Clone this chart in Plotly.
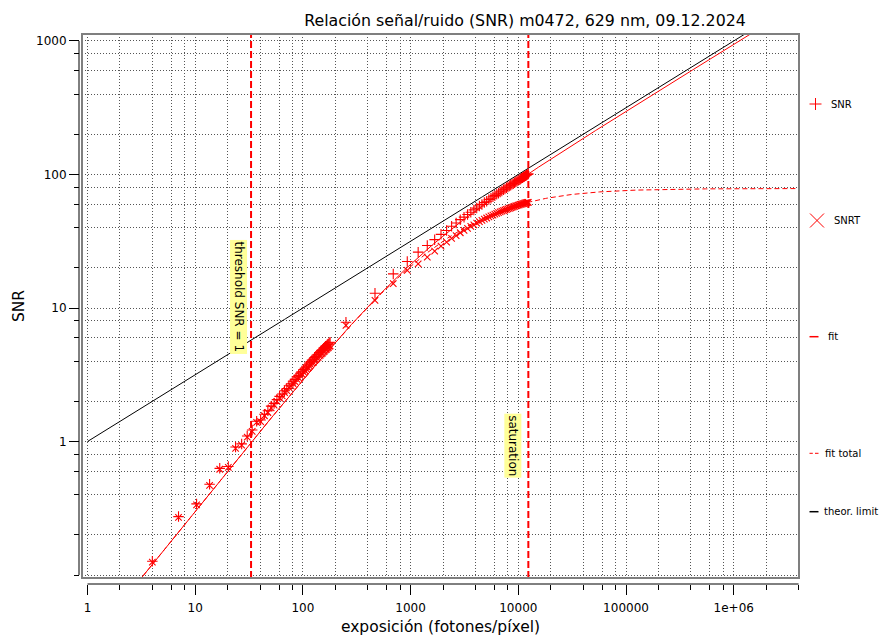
import numpy as np
import plotly.graph_objects as go

# ---------------- data ----------------
exp_low = [4.0, 7.0, 10.3, 13.6, 16.9, 20.3, 23.7, 27.0, 30.4, 33.8, 37.2, 40.5, 43.9, 47.3,
           50.7, 54.0, 57.4, 60.8, 64.2, 67.5, 70.9, 74.3, 77.7, 81.0, 84.4, 87.8, 91.2, 94.5,
           97.9, 101.3, 104.7, 108.0, 111.4, 114.8, 118.2, 121.5, 124.9, 128.3, 131.7, 135.0,
           138.4, 141.8, 145.2, 148.5, 151.9, 155.3, 158.7, 162.0, 165.4, 168.8, 172.2, 175.5, 178.9]
snr_low = [0.127, 0.274, 0.341, 0.479, 0.63, 0.65, 0.91, 0.96, 1.10, 1.22, 1.42, 1.45, 1.60, 1.70,
           1.84, 1.93, 2.06, 2.18, 2.27, 2.40, 2.49, 2.62, 2.71, 2.83, 2.92, 3.05, 3.13, 3.25,
           3.33, 3.46, 3.55, 3.66, 3.74, 3.87, 3.95, 4.07, 4.13, 4.26, 4.33, 4.45,
           4.51, 4.63, 4.70, 4.81, 4.87, 4.99, 5.05, 5.16, 5.22, 5.33, 5.38, 5.49, 5.54]
snrt_low = [0.125, 0.270, 0.335, 0.470, 0.62, 0.64, 0.89, 0.94, 1.08, 1.19, 1.39, 1.41, 1.56, 1.65,
            1.79, 1.87, 2.00, 2.11, 2.20, 2.32, 2.41, 2.53, 2.61, 2.72, 2.81, 2.93, 3.00, 3.11,
            3.19, 3.31, 3.39, 3.49, 3.57, 3.68, 3.76, 3.87, 3.92, 4.04, 4.11, 4.21,
            4.27, 4.38, 4.44, 4.54, 4.60, 4.70, 4.76, 4.86, 4.91, 5.01, 5.06, 5.16, 5.20]

exp_high = [251, 467, 690, 931, 1175, 1428, 1672, 1915, 2159, 2402, 2646, 2890, 3133, 3377,
            3620, 3864, 4108, 4351, 4595, 4838, 5082, 5326, 5569, 5813, 6056, 6300, 6544,
            6787, 7031, 7274, 7518, 7762, 8005, 8249, 8492, 8736, 8980, 9223, 9467, 9710,
            9954, 10198, 10441, 10685, 10928, 11172, 11416, 11659, 11903, 12146, 12390]
snr_high = [7.83, 12.9, 18.0, 22.3, 26.2, 29.4, 32.5, 35.6, 38.1, 41.0, 43.3, 45.9, 47.9, 50.2,
            52.1, 54.3, 56.0, 58.0, 59.7, 61.6, 63.1, 64.9, 66.3, 68.1, 69.4, 71.1, 72.4,
            74.0, 75.2, 76.8, 77.9, 79.4, 80.5, 82.0, 83.0, 84.4, 85.4, 86.8, 87.8, 89.1,
            90.0, 91.3, 92.2, 93.5, 94.4, 95.7, 96.6, 97.9, 98.8, 100.0, 101.0]
snrt_high = [7.40, 11.4, 15.2, 19.1, 21.4, 24.0, 26.7, 29.1, 31.2, 33.2, 34.9, 36.6, 38.1, 39.5,
             40.8, 42.0, 43.2, 44.3, 45.3, 46.3, 47.2, 48.1, 48.9, 49.7, 50.5, 51.2, 51.8,
             52.5, 53.1, 53.7, 54.2, 54.8, 55.3, 55.8, 56.3, 56.8, 57.2, 57.7, 58.1, 58.5,
             58.9, 59.3, 59.7, 60.0, 60.3, 60.6, 60.9, 61.2, 61.4, 61.7, 61.9]

exposure = exp_low + exp_high
snr = snr_low + snr_high
snrt = snrt_low + snrt_high

# fit parameters
QE = 0.888           # quantum efficiency
READ_NOISE = 29.3    # e-
PRNU = 0.01274       # photo response non-uniformity
THRESHOLD_X = 33.0   # exposure where SNR = 1
SATURATION_X = 12390.0

x_ticks = [1, 10, 100, 1000, 10000, 100000, 1000000]
x_ticktext = ["1", "10", "100", "1000", "10000", "100000", "1e+06"]
y_ticks = [1, 10, 100, 1000]
y_ticktext = ["1", "10", "100", "1000"]

# ---------------- model curves ----------------
xm = np.logspace(0, 6.61, 500)
sig = QE * xm
fit = sig / np.sqrt(sig + READ_NOISE ** 2)
fit_total = sig / np.sqrt(sig + READ_NOISE ** 2 + (PRNU * sig) ** 2)
theor = np.sqrt(xm)

W, H = 879, 636
ML, MR, MT, MB = 79, 80, 34, 52
PW, PH = W - ML - MR, H - MT - MB


def px(xp):
    return (xp - ML) / PW


def py(yp):
    return (H - MB - yp) / PH


RED = "#ff0000"
GRID = dict(gridcolor="#555555", griddash="1px,2px", gridwidth=1)
FONT = "DejaVu Sans"

fig = go.Figure()
fig.add_trace(go.Scatter(x=xm, y=theor, mode="lines", line=dict(color="black", width=1),
                         name="theor. limit", showlegend=False))
fig.add_trace(go.Scatter(x=xm, y=fit_total, mode="lines",
                         line=dict(color=RED, width=1, dash="5px,3px"),
                         name="fit total", showlegend=False))
fig.add_trace(go.Scatter(x=xm, y=fit, mode="lines", line=dict(color=RED, width=1),
                         name="fit", showlegend=False))
fig.add_trace(go.Scatter(x=exposure, y=snrt, mode="markers", name="SNRT", showlegend=False,
                         marker=dict(symbol="x-thin-open", size=6.5, color=RED,
                                     line=dict(color=RED, width=1.1))))
fig.add_trace(go.Scatter(x=exposure, y=snr, mode="markers", name="SNR", showlegend=False,
                         marker=dict(symbol="cross-thin-open", size=7.5, color=RED,
                                     line=dict(color=RED, width=1.1))))

shapes = []
# vertical marker lines
for xv in (THRESHOLD_X, SATURATION_X):
    shapes.append(dict(type="line", xref="x", yref="paper", x0=xv, x1=xv, y0=py(578), y1=1,
                       line=dict(color=RED, width=2, dash="7px,3px")))
# frame
shapes.append(dict(type="rect", xref="paper", yref="paper", x0=px(82), x1=1, y0=py(578), y1=1,
                   line=dict(color="#7f7f7f", width=2)))
# offset axis lines
shapes.append(dict(type="line", xref="paper", yref="y", x0=0, x1=0, y0=0.1, y1=1000,
                   line=dict(color="black", width=1)))
shapes.append(dict(type="line", xref="x", yref="paper", x0=1, x1=4e6, y0=0, y1=0,
                   line=dict(color="black", width=1)))

# custom legend symbols
def seg(x0, y0, x1, y1, color, width=1):
    shapes.append(dict(type="line", xref="paper", yref="paper", x0=px(x0), x1=px(x1),
                       y0=py(y0), y1=py(y1), line=dict(color=color, width=width)))

seg(809.5, 104, 821.5, 104, RED)
seg(815.5, 98, 815.5, 110, RED)
seg(810, 213.5, 824, 227.5, RED)
seg(810, 227.5, 824, 213.5, RED)
seg(809.5, 336.7, 818.5, 336.7, RED, 1.5)
seg(809.5, 453.3, 812.8, 453.3, RED)
seg(815, 453.3, 818.5, 453.3, RED)
seg(809.5, 511.7, 818.5, 511.7, "black", 1.5)

annotations = []
for label, xl, yl in [("SNR", 829, 104), ("SNRT", 831.5, 220.5), ("fit", 825.5, 336.7),
                      ("fit total", 822.5, 453.3), ("theor. limit", 821.5, 511.7)]:
    annotations.append(dict(text=label, xref="paper", yref="paper", x=px(xl), y=py(yl),
                            xanchor="left", yanchor="middle", showarrow=False,
                            font=dict(family=FONT, size=10, color="black")))

# rotated labels at the marker lines
annotations.append(dict(text="threshold SNR = 1", textangle=90, xref="x", yref="paper",
                        x=np.log10(THRESHOLD_X), y=py(296.5), xanchor="right", yanchor="middle",
                        xshift=-3, showarrow=False, bgcolor="#ffff99", borderpad=1,
                        font=dict(family=FONT, size=12, color="black")))
annotations.append(dict(text="saturation", textangle=90, xref="x", yref="paper",
                        x=np.log10(SATURATION_X), y=py(445.5), xanchor="right", yanchor="middle",
                        xshift=-6, showarrow=False, bgcolor="#ffff99", borderpad=1,
                        font=dict(family=FONT, size=12, color="black")))

minor_x = [m * 10 ** d for d in range(0, 7) for m in (2, 4, 6, 8) if m * 10 ** d <= 4e6]
minor_y = [0.1] + [m * 10 ** d for d in range(-1, 3) for m in (2, 4, 6, 8)]

fig.update_layout(
    width=W, height=H,
    margin=dict(l=ML, r=MR, t=MT, b=MB, autoexpand=False),
    paper_bgcolor="white", plot_bgcolor="white",
    font=dict(family=FONT, color="black", size=12),
    title=dict(text="Relación señal/ruido (SNR) m0472, 629 nm, 09.12.2024",
               xref="container", yref="container", x=525 / W, y=1 - 20 / H,
               xanchor="center", yanchor="middle",
               font=dict(family=FONT, size=15.8, color="black")),
    xaxis=dict(type="log", range=[-0.051, 6.606], domain=[px(82), 1], anchor="free", position=0,
               automargin=False,
               tickmode="array", tickvals=x_ticks, ticktext=x_ticktext,
               ticks="outside", ticklen=10, tickcolor="black", tickwidth=1,
               ticklabelstandoff=3,
               showline=False, zeroline=False, showgrid=True, **GRID,
               tickfont=dict(family=FONT, size=12, color="black"),
               title=dict(text="exposición (fotones/píxel)", standoff=12,
                          font=dict(family=FONT, size=15.5, color="black")),
               minor=dict(tickmode="array", tickvals=minor_x, ticks="outside", ticklen=5,
                          tickcolor="black", showgrid=True, **GRID)),
    yaxis=dict(type="log", range=[-1.022, 3.052], domain=[py(578), 1], anchor="free", position=0,
               automargin=False,
               tickmode="array", tickvals=y_ticks, ticktext=y_ticktext,
               ticks="outside", ticklen=10, tickcolor="black", tickwidth=1,
               showline=False, zeroline=False, showgrid=True, **GRID,
               tickfont=dict(family=FONT, size=12, color="black"),
               title=dict(text="SNR", standoff=6,
                          font=dict(family=FONT, size=15.5, color="black")),
               minor=dict(tickmode="array", tickvals=minor_y, ticks="outside", ticklen=5,
                          tickcolor="black", showgrid=True, **GRID)),
    shapes=shapes,
    annotations=annotations,
    showlegend=False,
)

fig.write_html("out.html")
